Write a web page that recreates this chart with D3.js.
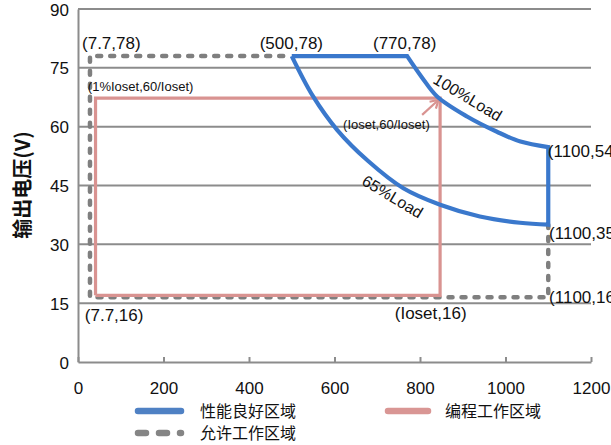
<!DOCTYPE html>
<html>
<head>
<meta charset="utf-8">
<script src="https://cdn.jsdelivr.net/npm/d3@7"></script>
<style>
  body { margin: 0; background: #fff; }
  text { font-family: "Liberation Sans", Arial, "Noto Sans CJK SC", sans-serif; }
</style>
</head>
<body>
<svg id="chart"></svg>
<script>
// axis ticks
var xTicks = [0, 200, 400, 600, 800, 1000, 1200];
var yTicks = [0, 15, 30, 45, 60, 75, 90];

// 性能良好区域
var goodTop = [[500, 78], [770, 78]];
var load100 = [[770, 78], [805, 72.5], [840, 67.7], [910, 62.6], [980, 58.7], [1035, 56.2], [1100, 54.8]];
var goodRight = [[1100, 54.8], [1100, 35]];
var load65 = [[1100, 35], [1034, 35.5], [940, 37.1], [847, 40.1], [761, 44.3], [678, 51.3], [606, 59.2], [550, 67.7], [500, 78]];

// 允许工作区域
var allowed = [[480, 78], [28, 78], [28, 16.5], [1100, 16.5], [1100, 35]];

// 编程工作区域
var program = [[41, 17], [41, 67.3], [847, 67.3], [847, 17], [41, 17]];
var programArrow = [[805, 63], [843, 66.8]];

// point labels: text and where it sits (data units)
var pointLabels = [
    { t: '(7.7,78)', x: 9.4, y: 81.4, size: 17 },
    { t: '(500,78)', x: 425, y: 81.4, size: 17 },
    { t: '(770,78)', x: 690, y: 81.4, size: 17 },
    { t: '(1100,54.6)', x: 1099, y: 53.8, size: 17 },
    { t: '(1100,35.5)', x: 1102, y: 32.9, size: 17 },
    { t: '(1100,16)', x: 1102, y: 16.6, size: 17 },
    { t: '(1%Ioset,60/Ioset)', x: 23, y: 70.4, size: 13 },
    { t: '(Ioset,60/Ioset)', x: 620, y: 60.5, size: 13 },
    { t: '(7.7,16)', x: 16, y: 12, size: 17 },
    { t: '(Ioset,16)', x: 741, y: 12.5, size: 17 }
];
var loadLabels = [
    { t: '100%Load', x: 912, y: 67.5 },
    { t: '65%Load', x: 736, y: 42.2 }
];
var legendItems = ['性能良好区域', '编程工作区域', '允许工作区域'];

var width = 611,
    height = 445,
    blue = '#3a78cc',
    pink = '#d99391',
    gray = '#7f7f7f',
    grid = '#8c8c8c';

var svg = d3.select('#chart')
    .attr('width', width)
    .attr('height', height);

var x = d3.scaleLinear().domain([0, 1200]).range([78, 591]),
    y = d3.scaleLinear().domain([0, 90]).range([362, 9]);

var straight = d3.line().x(function (d) { return x(d[0]); }).y(function (d) { return y(d[1]); }),
    curved = d3.line().x(function (d) { return x(d[0]); }).y(function (d) { return y(d[1]); })
        .curve(d3.curveCatmullRom);

// grid lines
svg.append('g')
    .selectAll('line')
    .data(yTicks.slice(1))
    .join('line')
    .attr('x1', x(0))
    .attr('x2', x(1200))
    .attr('y1', function (d) { return y(d); })
    .attr('y2', function (d) { return y(d); })
    .attr('stroke', grid)
    .attr('stroke-width', 2);

// left axis
var yAxis = svg.append('g')
    .attr('transform', 'translate(' + x(0) + ',0)')
    .call(d3.axisLeft(y).tickValues(yTicks).tickSize(0).tickPadding(9));
yAxis.select('.domain').attr('stroke', grid).attr('stroke-width', 2);
yAxis.selectAll('text')
    .attr('font-size', 17)
    .attr('fill', '#111')
    .attr('dy', '0.36em');

// bottom axis, ticks pointing up
var xAxis = svg.append('g')
    .attr('transform', 'translate(0,' + y(0) + ')')
    .call(d3.axisBottom(x).tickValues(xTicks).tickFormat(d3.format('d'))
        .tickSize(-5).tickPadding(20).tickSizeOuter(0));
xAxis.select('.domain').attr('stroke', grid).attr('stroke-width', 2);
xAxis.selectAll('.tick line').attr('stroke', grid).attr('stroke-width', 2);
xAxis.selectAll('text')
    .attr('font-size', 17)
    .attr('fill', '#111');

// 允许工作区域
svg.append('path')
    .attr('d', straight(allowed))
    .attr('fill', 'none')
    .attr('stroke', gray)
    .attr('stroke-width', 4.5)
    .attr('stroke-linecap', 'round')
    .attr('stroke-dasharray', '4,9');

// 编程工作区域
svg.append('path')
    .attr('d', straight(program))
    .attr('fill', 'none')
    .attr('stroke', pink)
    .attr('stroke-width', 3.2);

svg.append('path')
    .attr('d', straight(programArrow))
    .attr('fill', 'none')
    .attr('stroke', pink)
    .attr('stroke-width', 2.2);

var a0 = programArrow[0], a1 = programArrow[1],
    ang = Math.atan2(y(a1[1]) - y(a0[1]), x(a1[0]) - x(a0[0])),
    tipX = x(a1[0]), tipY = y(a1[1]);
svg.append('path')
    .attr('d', d3.line()([
        [tipX - 9 * Math.cos(ang - 0.55), tipY - 9 * Math.sin(ang - 0.55)],
        [tipX, tipY],
        [tipX - 9 * Math.cos(ang + 0.55), tipY - 9 * Math.sin(ang + 0.55)]
    ]))
    .attr('fill', 'none')
    .attr('stroke', pink)
    .attr('stroke-width', 2.2);

// 性能良好区域
var goodPath = straight(goodTop) +
    curved(load100).replace(/^M/, 'L') +
    straight(goodRight).replace(/^M/, 'L') +
    curved(load65).replace(/^M/, 'L');
svg.append('path')
    .attr('d', goodPath)
    .attr('fill', 'none')
    .attr('stroke', blue)
    .attr('stroke-width', 4.2)
    .attr('stroke-linejoin', 'miter');

// point labels
svg.append('g')
    .selectAll('text')
    .data(pointLabels)
    .join('text')
    .attr('x', function (d) { return x(d.x); })
    .attr('y', function (d) { return y(d.y); })
    .attr('dy', '0.36em')
    .attr('font-size', function (d) { return d.size; })
    .attr('fill', '#111')
    .text(function (d) { return d.t; });

svg.append('g')
    .selectAll('text')
    .data(loadLabels)
    .join('text')
    .attr('transform', function (d) { return 'translate(' + x(d.x) + ',' + y(d.y) + ') rotate(31)'; })
    .attr('text-anchor', 'middle')
    .attr('dy', '0.36em')
    .attr('font-size', 16)
    .attr('fill', '#111')
    .text(function (d) { return d.t; });

// y axis title
svg.append('text')
    .attr('transform', 'translate(23,185) rotate(-90)')
    .attr('text-anchor', 'middle')
    .attr('dy', '0.36em')
    .attr('font-size', 20)
    .attr('font-weight', 'bold')
    .attr('fill', '#111')
    .style('font-family', '"Noto Sans CJK SC", sans-serif')
    .text('输出电压(V)');

// legend
var legendPos = [[135, 411], [385, 411], [135, 433]],
    legendColor = ['#4f81c4', '#d99694', '#858585'];
var legend = svg.append('g')
    .selectAll('g')
    .data(legendItems)
    .join('g')
    .attr('transform', function (d, i) { return 'translate(' + legendPos[i][0] + ',' + legendPos[i][1] + ')'; });
legend.append('line')
    .attr('x1', 3)
    .attr('x2', function (d, i) { return i === 1 ? 43 : 46; })
    .attr('stroke', function (d, i) { return legendColor[i]; })
    .attr('stroke-width', 6.5)
    .attr('stroke-linecap', 'round')
    .attr('stroke-dasharray', function (d, i) { return i === 2 ? '8,13' : null; });
legend.append('text')
    .attr('x', function (d, i) { return i === 1 ? 60 : 65; })
    .attr('dy', '0.36em')
    .attr('font-size', 16)
    .attr('fill', '#111')
    .style('font-family', '"Noto Sans CJK SC", sans-serif')
    .text(function (d) { return d; });
</script>
</body>
</html>
